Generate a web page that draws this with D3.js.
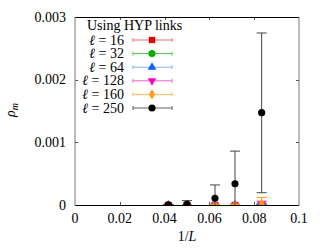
<!DOCTYPE html>
<html><head><meta charset="utf-8">
<script src="https://cdn.jsdelivr.net/npm/d3@7"></script>
<style>body{margin:0;background:#fff}svg{display:block}</style>
</head><body><svg id="c" width="332" height="249"></svg>
<script>
const invL = [1/24, 1/20, 1/16, 1/14, 1/12];
const xTicks = [0, 0.02, 0.04, 0.06, 0.08, 0.1];
const xTickLabels = ["0", "0.02", "0.04", "0.06", "0.08", "0.1"];
const yTicks = [0, 0.001, 0.002, 0.003];
const yTickLabels = ["0", "0.001", "0.002", "0.003"];
const seriesNames = ["16", "32", "64", "128", "160", "250"];
const val16  = [0, 0, 0, 0, 0];
const up16   = [0.000005, 0.000005, 0.000005, 0.000005, 0.00001];
const val32  = [0, 0, 0, 0, 0];
const up32   = [0.000005, 0.000005, 0.000005, 0.000005, 0.00001];
const val64  = [0, 0, 0, 0, 0];
const up64   = [0.000005, 0.000005, 0.000005, 0.000005, 0.00002];
const val128 = [0, 0, 0, 0, 0.00001];
const up128  = [0.000005, 0.000005, 0.000005, 0.000005, 0.00006];
const val160 = [0, 0, 0, 0, 0.00002];
const up160  = [0.000005, 0.000005, 0.00001, 0.00001, 0.00012];
const val250 = [0.000003, 0.00001, 0.000107, 0.00034, 0.001473];
const up250  = [0.00001, 0.00007, 0.00032, 0.00086, 0.002745];
const lo250  = [0, -0.00005, -0.0001, -0.0002, 0.000196];

const FONT = "Liberation Serif";
const FS = 14;
const svg = d3.select("#c").attr("font-family", FONT);
const M = {l:75, r:299, t:17, b:205};
const x = d3.scaleLinear().domain([0,0.1]).range([M.l, M.r]);
const y = d3.scaleLinear().domain([0,0.003]).range([M.b, M.t]);
const txt = (sel)=>sel.append("text").attr("font-family",FONT).attr("font-size",FS).attr("fill","#000");

const styles = [
  {c:"#e00000", lc:"#f07070", sym:d3.symbolSquare, size:40, rot:0},
  {c:"#00b000", lc:"#50c850", sym:d3.symbolCircle, size:40, rot:0},
  {c:"#0060ff", lc:"#80b0ff", sym:d3.symbolTriangle, size:32, rot:0},
  {c:"#ff00c0", lc:"#f060d0", sym:d3.symbolTriangle, size:32, rot:180},
  {c:"#ff9900", lc:"#ffb860", sym:d3.symbolDiamond, size:30, rot:0},
  {c:"#000000", lc:"#606060", sym:d3.symbolCircle, size:40, rot:0}
];
const vals = [val16,val32,val64,val128,val160,val250];
const ups = [up16,up32,up64,up128,up160,up250];
const los = [val16.map(v=>-0.000005), val32.map(v=>-0.000005), val64.map(v=>-0.000005), val128.map(v=>-0.000005), val160.map(v=>-0.000005), lo250];

svg.append("defs").append("clipPath").attr("id","clip").append("rect")
  .attr("x",M.l).attr("y",M.t-10).attr("width",M.r-M.l+10).attr("height",M.b-M.t+10);

const tl = 3;
xTicks.forEach((t,i)=>{
  const px = Math.round(x(t))+0.5;
  if(i>0 && i<xTicks.length-1){
    svg.append("line").attr("x1",px).attr("x2",px).attr("y1",M.b).attr("y2",M.b-tl).attr("stroke","#555");
    svg.append("line").attr("x1",px).attr("x2",px).attr("y1",M.t).attr("y2",M.t+tl).attr("stroke","#555");
  }
  txt(svg).attr("x",x(t)).attr("y",223).attr("text-anchor","middle").text(xTickLabels[i]);
});
yTicks.forEach((t,i)=>{
  const py = Math.round(y(t))+0.5;
  if(i>0 && i<yTicks.length-1){
    svg.append("line").attr("x1",M.l).attr("x2",M.l+tl).attr("y1",py).attr("y2",py).attr("stroke","#555");
    svg.append("line").attr("x1",M.r).attr("x2",M.r-tl).attr("y1",py).attr("y2",py).attr("stroke","#555");
  }
  txt(svg).attr("x",M.l-9).attr("y",y(t)+4.5).attr("text-anchor","end").text(yTickLabels[i]);
});

const g = svg.append("g").attr("clip-path","url(#clip)");
const cap = 5;
vals.forEach((vs,si)=>{
  const st = styles[si];
  const ec = si===5 ? "#444" : st.c;
  invL.forEach((xv,i)=>{
    const px = x(xv);
    g.append("line").attr("x1",px).attr("x2",px).attr("y1",y(los[si][i])).attr("y2",y(ups[si][i])).attr("stroke",ec).attr("stroke-width",1);
    g.append("line").attr("x1",px-cap).attr("x2",px+cap).attr("y1",y(ups[si][i])).attr("y2",y(ups[si][i])).attr("stroke",ec).attr("stroke-width",1);
    g.append("line").attr("x1",px-cap).attr("x2",px+cap).attr("y1",y(los[si][i])).attr("y2",y(los[si][i])).attr("stroke",ec).attr("stroke-width",1);
  });
  g.selectAll(null).data(invL).enter().append("path")
    .attr("d",d3.symbol().type(st.sym).size(st.size))
    .attr("transform",(d,i)=>`translate(${x(d)},${y(vs[i])}) rotate(${st.rot})`)
    .attr("fill",st.c);
});

svg.append("line").attr("x1",M.l).attr("x2",M.r).attr("y1",M.t+0.5).attr("y2",M.t+0.5).attr("stroke","#000");
svg.append("line").attr("x1",M.l).attr("x2",M.r).attr("y1",M.b+0.5).attr("y2",M.b+0.5).attr("stroke","#000");
svg.append("line").attr("x1",M.l).attr("x2",M.l).attr("y1",M.t).attr("y2",M.b+1).attr("stroke","#777").attr("stroke-width",1);
svg.append("line").attr("x1",M.r).attr("x2",M.r).attr("y1",M.t).attr("y2",M.b+1).attr("stroke","#777").attr("stroke-width",1);

txt(svg).attr("x",87).attr("y",30).text("Using HYP links");
seriesNames.forEach((n,i)=>{
  const st = styles[i];
  const ly = 40 + i*13.6;
  const t = txt(svg).attr("x",124).attr("y",ly+4.5).attr("text-anchor","end");
  t.append("tspan").attr("font-style","italic").text("ℓ");
  t.append("tspan").text(" = " + n);
  svg.append("line").attr("x1",133).attr("x2",172).attr("y1",ly).attr("y2",ly).attr("stroke",st.lc).attr("stroke-width",1);
  [133,172].forEach(ex=>svg.append("line").attr("x1",ex).attr("x2",ex).attr("y1",ly-2).attr("y2",ly+2).attr("stroke",st.lc));
  svg.append("path").attr("d",d3.symbol().type(st.sym).size(st.size)()).attr("transform",`translate(152,${ly}) rotate(${st.rot})`).attr("fill",st.c);
});

const yl = txt(svg).attr("transform","translate(15,110) rotate(-90)").attr("text-anchor","middle");
yl.append("tspan").attr("font-style","italic").text("ρ");
yl.append("tspan").attr("font-style","italic").attr("font-size",10).attr("dy",3).text("m");
const xl = txt(svg).attr("x",187).attr("y",241).attr("text-anchor","middle");
xl.append("tspan").text("1/");
xl.append("tspan").attr("font-style","italic").text("L");
</script></body></html>
